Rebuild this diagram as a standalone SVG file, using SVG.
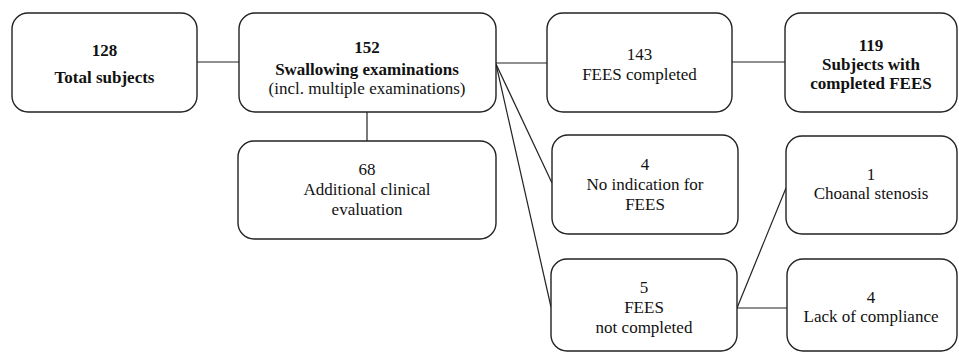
<svg xmlns="http://www.w3.org/2000/svg" width="959" height="352" viewBox="0 0 959 352">
<style>
.box{fill:#fff;stroke:#222;stroke-width:1.4}
.t{font-family:'Liberation Serif','DejaVu Serif','Times New Roman',serif;font-size:17px;fill:#111;text-anchor:middle}
.b{font-weight:bold}
.c{fill:none;stroke:#222;stroke-width:1.2}
</style>
<rect width="959" height="352" fill="#fff"/>
<g id="connectors">
<line class="c" x1="197" y1="62" x2="239" y2="62"/>
<line class="c" x1="496" y1="63" x2="547" y2="63"/>
<line class="c" x1="732" y1="62" x2="785" y2="62"/>
<line class="c" x1="367" y1="112" x2="367" y2="141"/>
<line class="c" x1="496" y1="64" x2="552" y2="183"/>
<line class="c" x1="496" y1="64" x2="551" y2="307"/>
<line class="c" x1="737" y1="308" x2="786" y2="188"/>
<line class="c" x1="737" y1="308" x2="787" y2="308"/>
</g>
<g id="n128"><rect class="box" x="12" y="13" width="185" height="99" rx="16"/>
<text class="t b" x="104.5" y="56">128</text><text class="t b" x="104.5" y="83">Total subjects</text></g>
<g id="n152"><rect class="box" x="239" y="13" width="257" height="99" rx="16"/>
<text class="t b" x="367" y="53">152</text><text class="t b" x="367" y="75">Swallowing examinations</text><text class="t" x="367" y="94">(incl. multiple examinations)</text></g>
<g id="n143"><rect class="box" x="547" y="13" width="185" height="99" rx="16"/>
<text class="t" x="639.5" y="60">143</text><text class="t" x="639.5" y="80">FEES completed</text></g>
<g id="n119"><rect class="box" x="785" y="13" width="172" height="99" rx="16"/>
<text class="t b" x="871" y="51">119</text><text class="t b" x="871" y="70">Subjects with</text><text class="t b" x="871" y="89">completed FEES</text></g>
<g id="n68"><rect class="box" x="238" y="141" width="258" height="98" rx="16"/>
<text class="t" x="367" y="175">68</text><text class="t" x="367" y="195">Additional clinical</text><text class="t" x="367" y="215">evaluation</text></g>
<g id="n4a"><rect class="box" x="552" y="135" width="186" height="99" rx="16"/>
<text class="t" x="645" y="170">4</text><text class="t" x="645" y="190">No indication for</text><text class="t" x="645" y="210">FEES</text></g>
<g id="n5"><rect class="box" x="551" y="259" width="186" height="92" rx="16"/>
<text class="t" x="644" y="293">5</text><text class="t" x="644" y="313">FEES</text><text class="t" x="644" y="333">not completed</text></g>
<g id="n1"><rect class="box" x="786" y="136" width="171" height="98" rx="16"/>
<text class="t" x="871" y="180">1</text><text class="t" x="871" y="199">Choanal stenosis</text></g>
<g id="n4b"><rect class="box" x="787" y="259" width="170" height="92" rx="16"/>
<text class="t" x="871" y="303">4</text><text class="t" x="871" y="322">Lack of compliance</text></g>
</svg>
